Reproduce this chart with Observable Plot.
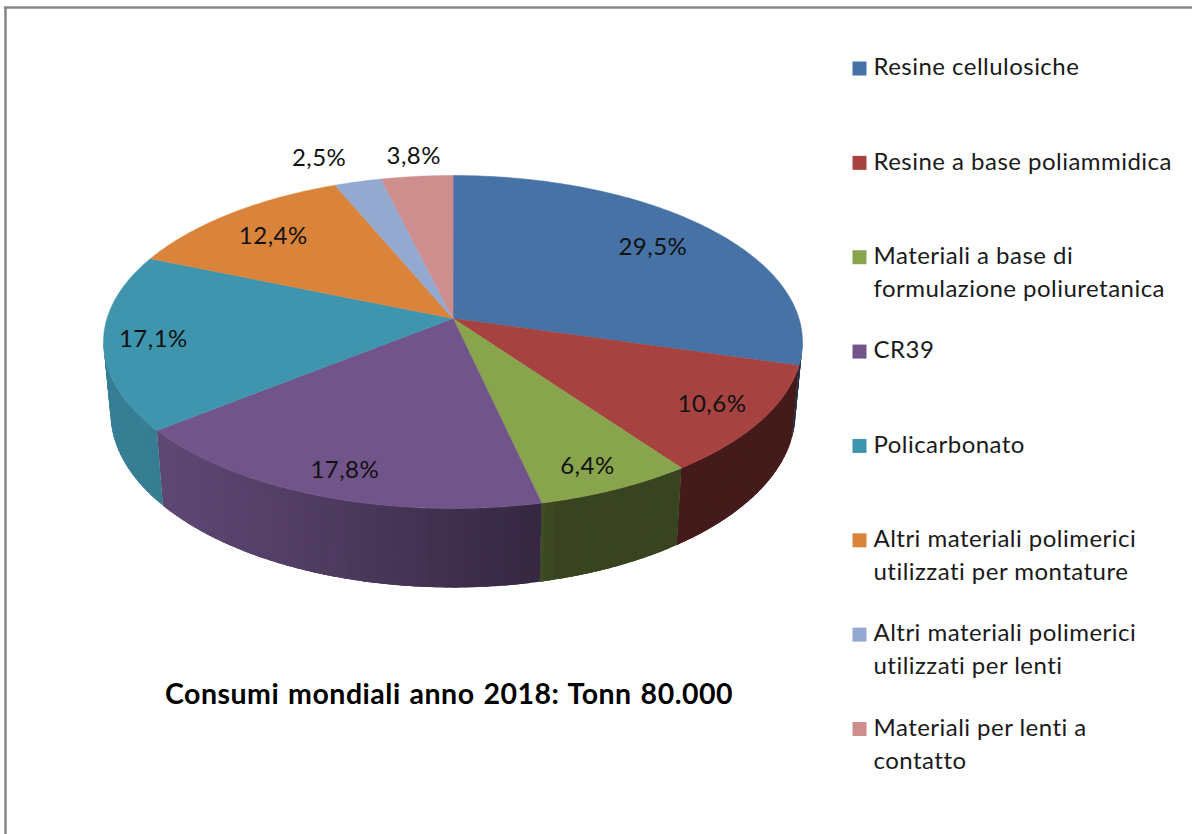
<!DOCTYPE html>
<html lang="it">
<head>
<meta charset="utf-8">
<style>
html,body{margin:0;padding:0;background:#fff}svg{display:block}
.pie-label text,.legend-text text{letter-spacing:.47px}
.pie-title text{letter-spacing:.5px;word-spacing:1.5px}
</style>
<script src="https://cdn.jsdelivr.net/npm/d3@7"></script>
<script src="https://cdn.jsdelivr.net/npm/@observablehq/plot@0.6"></script>
</head>
<body>
<div id="chart"></div>
<script>
const categories = ["Resine cellulosiche","Resine a base poliammidica","Materiali a base di\nformulazione poliuretanica","CR39","Policarbonato","Altri materiali polimerici\nutilizzati per montature","Altri materiali polimerici\nutilizzati per lenti","Materiali per lenti a\ncontatto"];
const values = [29.5,10.6,6.4,17.8,17.1,12.4,2.5,3.8];
const valueLabels = ["29,5%","10,6%","6,4%","17,8%","17,1%","12,4%","2,5%","3,8%"];
const colors = ["#4672A6","#A64340","#88A44C","#71558A","#4095AE","#DA833B","#93A9D0","#CE8E8E"];
const labelRadius = [0.77,0.852,0.872,0.869,0.86,0.781,1.228,1.161];
const labelTurn = [0,0,1,-0.7,-0.4,-0.8,-3.3,0.3];
const chartTitle = "Consumi mondiali anno 2018: Tonn 80.000";
const FONT = "Lato, 'Open Sans', sans-serif";

// Perspective of the pie disc (a tilted circle seen from the front)
const cx = 452.5, cy = 318, A = 346, B = 163.2, k = 0.1411;
const top3d = (deg, r = 1) => {
  const t = deg * Math.PI / 180, u = r * Math.sin(t), v = -r * Math.cos(t), w = 1 - k * v;
  return [cx + A * u / w, cy + B * v / w];
};
const bot3d = (deg) => {
  const [x, y] = top3d(deg);
  return [cx + 0.98 * (x - cx), cy + 1.05 * (y - cy) + 69.4];
};
const shade = d3.scaleLinear().domain([103,160,300,430,540,560,1200]).range([.85,.84,.72,.58,.47,.41,.41]);
const dim = (c, f) => { const q = d3.rgb(c); return d3.rgb(q.r * f, q.g * f, q.b * f).formatHex(); };

const total = d3.sum(values);
let acc = 0;
const wedges = values.map((v, i) => {
  const a0 = acc / total * 360; acc += v;
  return {i, a0, a1: acc / total * 360, mid: (a0 + acc / total * 360) / 2};
});

const wall = [], face = [];
const WALL_FROM = 98, WALL_TO = 262, STEP = 1.5;
wedges.forEach(w => {
  const s = Math.max(w.a0, WALL_FROM), e = Math.min(w.a1, WALL_TO);
  // Each quad overlaps the next one, so that no seam shows between them.
  for (let a = s; a < e; a += STEP) {
    const b = Math.min(a + 2.5 * STEP, e), id = `w${w.i}-${a}`;
    const [x0] = top3d(a + STEP / 2), col = dim(colors[w.i], shade(x0));
    const arc = d3.range(0, 5).map(j => a + (b - a) * j / 4);
    [...arc.map(top3d1), ...arc.slice().reverse().map(bot3d)].forEach(([x, y]) => wall.push({x, y, id, col}));
  }
  face.push({x: cx, y: cy, id: w.i, col: colors[w.i]});
  const n = Math.ceil((w.a1 - w.a0) / 0.75);
  d3.range(n + 1).forEach(j => {
    const [x, y] = top3d(w.a0 + (w.a1 - w.a0) * j / n);
    face.push({x, y, id: w.i, col: colors[w.i]});
  });
});
function top3d1(a) { return top3d(a); }

const labels = wedges.map(w => {
  const [x, y] = top3d(w.mid + labelTurn[w.i], labelRadius[w.i]);
  return {x, y, text: valueLabels[w.i]};
});

const LEG_Y = 67, LEG_STEP = 94.36, LEG_LINE = 33, LEG_X = 873, SW_X = 859;
const legendSwatches = categories.map((c, i) => ({x: SW_X, y: LEG_Y + 1 + i * LEG_STEP, col: colors[i]}));
const legendText = categories.flatMap((c, i) => c.split("\n").map((t, j) => ({x: LEG_X, y: LEG_Y + i * LEG_STEP + j * LEG_LINE, t})));

const chart = Plot.plot({
  width: 1192, height: 834, margin: 0,
  style: {background: "#fff", fontFamily: FONT},
  x: {domain: [0, 1192], range: [0, 1192], axis: null},
  y: {domain: [0, 834], range: [0, 834], axis: null},
  color: {type: "identity"},
  marks: [
    Plot.ruleX([5], {y1: 7, y2: 834, stroke: "#868686", strokeWidth: 2.5}),
    Plot.ruleY([7], {x1: 4, x2: 1192, stroke: "#868686", strokeWidth: 2.5}),
    Plot.line(wall, {x: "x", y: "y", z: "id", fill: "col", stroke: null, curve: "linear-closed"}),
    Plot.line(face, {x: "x", y: "y", z: "id", fill: "col", stroke: "col", strokeWidth: 0.5, curve: "linear-closed"}),
    Plot.text(labels, {x: "x", y: "y", text: "text", fontSize: 24, fill: "#111", fontFamily: FONT, className: "pie-label"}),
    Plot.dot(legendSwatches, {x: "x", y: "y", fill: "col", symbol: "square", r: 7.9}),
    Plot.text(legendText, {x: "x", y: "y", text: "t", textAnchor: "start", fontSize: 24, fill: "#1a1a1a", fontFamily: FONT, className: "legend-text"}),
    Plot.text([chartTitle], {x: () => 448.5, y: () => 694, text: d => d, fontSize: 28.5, fontWeight: 700, fill: "#000", fontFamily: FONT, className: "pie-title"})
  ]
});
document.getElementById("chart").append(chart);
</script>
</body>
</html>
